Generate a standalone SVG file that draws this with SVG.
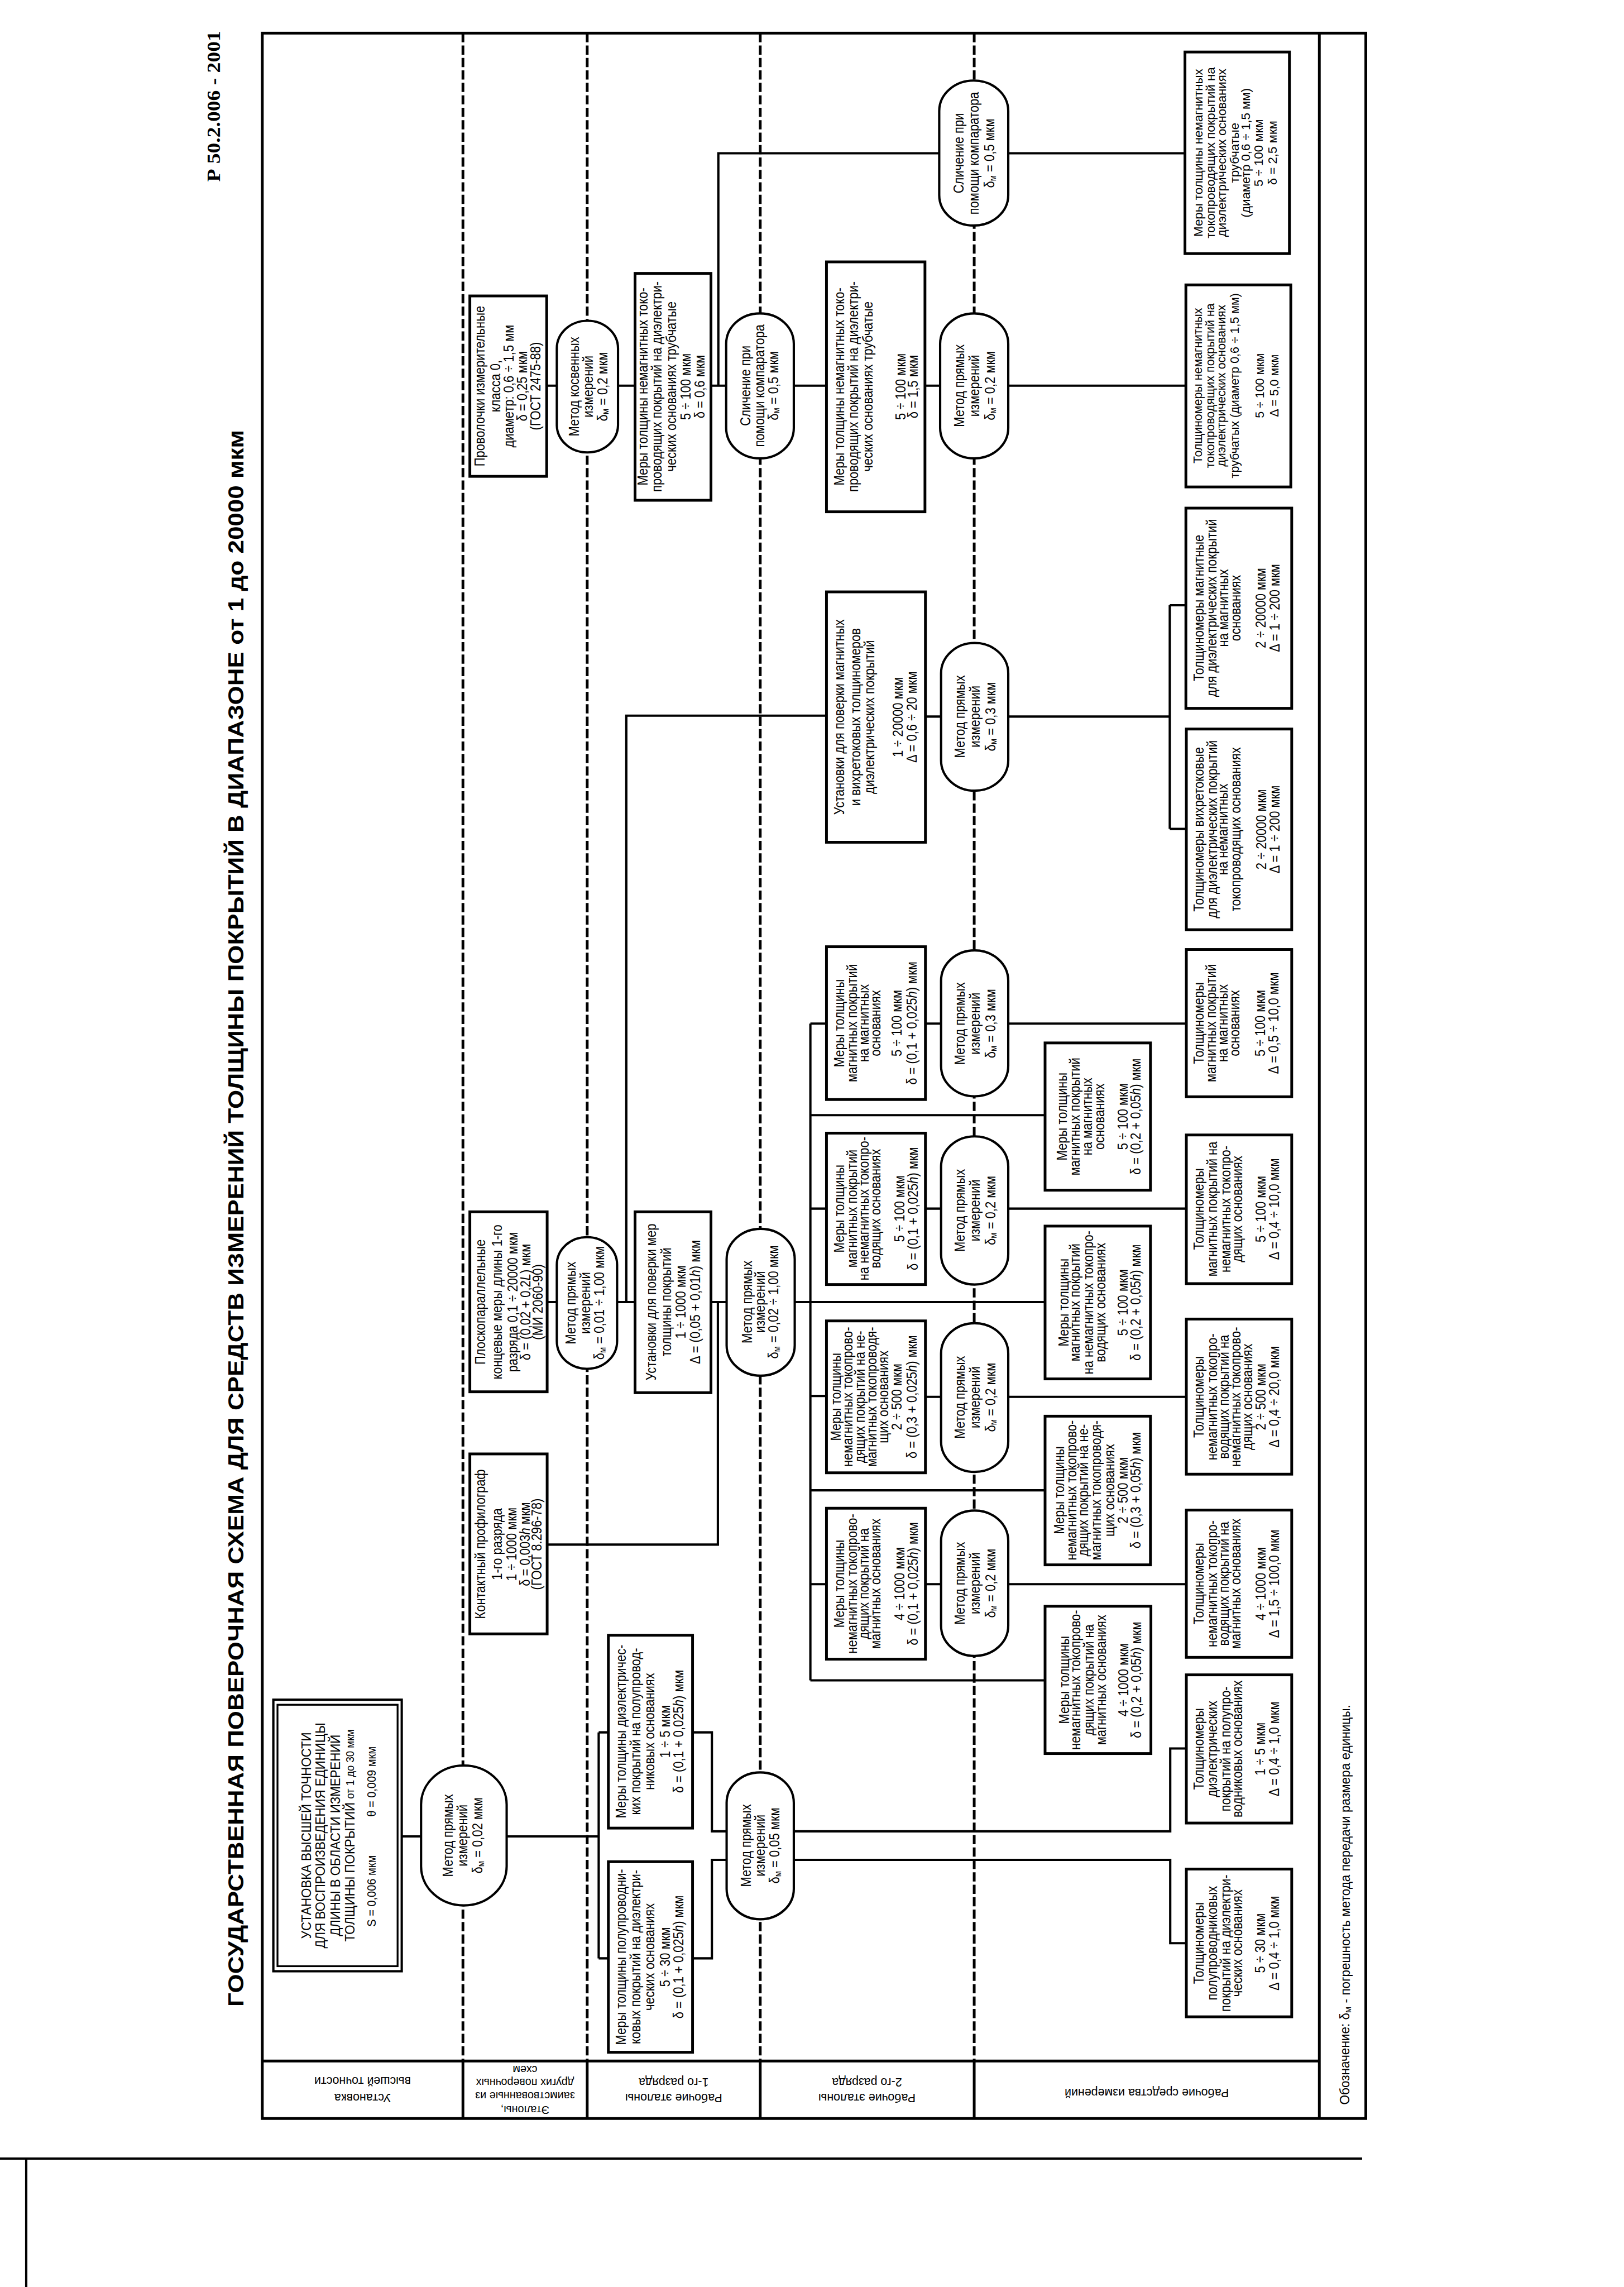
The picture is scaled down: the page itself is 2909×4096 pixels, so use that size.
<svg xmlns="http://www.w3.org/2000/svg" width="2909" height="4096" viewBox="0 0 2909 4096">
<style>
.f{fill:none;stroke:#000;stroke-width:6}
.bx{fill:#fff;stroke:#000;stroke-width:6}
.el{fill:#fff;stroke:#000;stroke-width:5}
.c{fill:none;stroke:#000;stroke-width:5}
.d{fill:none;stroke:#000;stroke-width:6;stroke-dasharray:20 7}
.t{font-family:"Liberation Sans",Arial,sans-serif;font-size:31px;text-anchor:middle;dominant-baseline:central;fill:#000}
.r{font-family:"Liberation Sans",Arial,sans-serif;font-size:27px;text-anchor:middle;dominant-baseline:central;fill:#000}
.lb{font-family:"Liberation Sans",Arial,sans-serif;font-size:26px;text-anchor:middle;dominant-baseline:central;fill:#000}
.ti{font-family:"Liberation Sans",Arial,sans-serif;font-size:46px;font-weight:bold;dominant-baseline:central;fill:#000}
.hd{font-family:"Liberation Serif","Times New Roman",serif;font-size:42px;font-weight:bold;dominant-baseline:central;fill:#000}
.s{font-size:21px}
.i{font-style:italic}
</style>
<rect x="0" y="0" width="2909" height="4096" fill="#fff"/>
<g transform="scale(0.8243)">
<!-- page artifacts -->
<path d="M0 4690 H2960 M57 4690 V4969" stroke="#000" stroke-width="5" fill="none"/>
<text class="hd" transform="translate(463 395) rotate(-90)" textLength="328" lengthAdjust="spacingAndGlyphs">Р 50.2.006 - 2001</text>
<text class="ti" transform="translate(513 4360) rotate(-90)" textLength="3426" lengthAdjust="spacingAndGlyphs">ГОСУДАРСТВЕННАЯ ПОВЕРОЧНАЯ СХЕМА ДЛЯ СРЕДСТВ ИЗМЕРЕНИЙ ТОЛЩИНЫ ПОКРЫТИЙ В ДИАПАЗОНЕ от 1 до 20000 мкм</text>

<!-- frame -->
<g id="frame">
<rect class="f" x="570" y="72" width="2398" height="4531"/>
<path class="f" d="M2867 72 V4603 M570 4478 H2867 M1006 4478 V4603 M1276 4478 V4603 M1652 4478 V4603 M2117 4478 V4603"/>
<path class="d" d="M1006 72 V4478 M1276 72 V4478 M1652 72 V4478 M2117 72 V4478"/>
<text class="lb" transform="translate(788 4540) rotate(180)"><tspan x="0" y="-18">Установка</tspan><tspan x="0" y="18">высшей точности</tspan></text>
<text class="lb" style="font-size:24px" transform="translate(1141 4540) rotate(180)"><tspan x="0" y="-44">Эталоны,</tspan><tspan x="0" y="-14">заимствованные из</tspan><tspan x="0" y="15">других поверочных</tspan><tspan x="0" y="43">схем</tspan></text>
<text class="lb" transform="translate(1464 4540) rotate(180)"><tspan x="0" y="-18">Рабочие эталоны</tspan><tspan x="0" y="16">1-го разряда</tspan></text>
<text class="lb" transform="translate(1884 4540) rotate(180)"><tspan x="0" y="-18">Рабочие эталоны</tspan><tspan x="0" y="16">2-го разряда</tspan></text>
<text class="lb" transform="translate(2492 4540) rotate(180)"><tspan x="0" y="-7">Рабочие средства измерений</tspan></text>
<text class="lb" style="font-size:29px;text-anchor:start" transform="translate(2922 4573) rotate(-90)" textLength="869" lengthAdjust="spacingAndGlyphs">Обозначение: δ<tspan class="s" dy="7">м</tspan><tspan dy="-7"> - погрешность метода передачи размера единицы.</tspan></text>
</g>

<!-- connectors -->
<g id="connectors" class="c">
<path d="M873 3990 H915 M1101 3990 H1301 M1301 3764 V4255 M1301 3764 H1322 M1301 4255 H1322
M1505 3764 H1547 V3979 H1579 M1505 4255 H1547 V4041 H1579
M1725 3979 H2543 V3799 H2578 M1725 4041 H2543 V4222 H2578
M1189 3356 H1560 V2829 M1189 2829 H1210 M1341 2829 H1380 M1361 2829 V1555 H1796 M1545 2829 H1579 M1727 2829 H2271
M1761 2224 V3651 M1761 2224 H1796 M1761 2626 H1796 M1761 3033 H1796 M1761 3442 H1796
M1761 2423 H2271 M1761 3238 H2271 M1761 3651 H2271
M2011 2224 H2045 M2011 2626 H2045 M2011 3035 H2045 M2011 3442 H2045 M2010 838 H2043 M2011 1557 H2045
M2191 2224 H2578 M2191 2626 H2578 M2191 3035 H2578 M2191 3442 H2578 M2191 838 H2577 M2191 333 H2575
M2191 1557 H2542 M2542 1315 V1801 M2542 1315 H2577 M2542 1801 H2578
M1188 838 H1210 M1343 838 H1380 M1545 838 H1578 M1561 838 V333 H2041 M1725 838 H1796"/>
</g>

<!-- nodes -->
<g id="n_top">
<rect class="bx" x="594" y="3693" width="279" height="590" style="stroke-width:5"/>
<rect class="bx" x="603" y="3704" width="261" height="568" style="stroke-width:4"/>
<text class="t" style="font-size:30px" transform="translate(733 3988) rotate(-90) scale(0.9 1)"><tspan x="0" y="-68">УСТАНОВКА ВЫСШЕЙ ТОЧНОСТИ</tspan><tspan x="0" y="-37">ДЛЯ ВОСПРОИЗВЕДЕНИЯ ЕДИНИЦЫ</tspan><tspan x="0" y="-5">ДЛИНЫ В ОБЛАСТИ ИЗМЕРЕНИЙ</tspan><tspan x="0" y="27">ТОЛЩИНЫ ПОКРЫТИЙ <tspan style="font-size:25px">от 1 до 30 мкм</tspan></tspan><tspan x="-134" y="73" style="font-size:27px">S = 0,006 мкм</tspan><tspan x="130" y="73" style="font-size:27px">θ = 0,009 мкм</tspan></text>
</g>
<g id="e1"><rect class="el" x="915" y="3836" width="186" height="304" rx="93" ry="85"/>
<text class="t" transform="translate(1008 3988) rotate(-90) scale(0.86 1)"><tspan x="0" y="-36">Метод прямых</tspan><tspan x="0" y="-4">измерений</tspan><tspan x="0" y="29">δ<tspan class="s" dy="7">м</tspan><tspan dy="-7"> = 0,02 мкм</tspan></tspan></text></g>

<g id="n_diel"><rect class="bx" x="1322" y="3553" width="183" height="419"/>
<text class="t" transform="translate(1413 3762) rotate(-90) scale(0.86 1)"><tspan x="0" y="-65">Меры толщины диэлектричес-</tspan><tspan x="0" y="-33">ких покрытий на полупровод-</tspan><tspan x="0" y="-3">никовых основаниях</tspan><tspan x="0" y="31">1 ÷ 5 мкм</tspan><tspan x="0" y="60">δ =  (0,1 + 0,025<tspan class="i">h</tspan>) мкм</tspan></text></g>
<g id="n_polupr"><rect class="bx" x="1322" y="4045" width="183" height="414"/>
<text class="t" transform="translate(1413 4252) rotate(-90) scale(0.86 1)"><tspan x="0" y="-65">Меры толщины полупроводни-</tspan><tspan x="0" y="-33">ковых покрытий на диэлектри-</tspan><tspan x="0" y="-3">ческих основаниях</tspan><tspan x="0" y="31">5 ÷ 30 мкм</tspan><tspan x="0" y="60">δ =  (0,1 + 0,025<tspan class="i">h</tspan>) мкм</tspan></text></g>
<g id="e2"><rect class="el" x="1579" y="3851" width="146" height="319" rx="73" ry="66"/>
<text class="t" transform="translate(1652 4010) rotate(-90) scale(0.86 1)"><tspan x="0" y="-32">Метод прямых</tspan><tspan x="0" y="-2">измерений</tspan><tspan x="0" y="30">δ<tspan class="s" dy="7">м</tspan><tspan dy="-7"> = 0,05 мкм</tspan></tspan></text></g>

<g id="n_kontakt"><rect class="bx" x="1021" y="3159" width="168" height="391"/>
<text class="t" transform="translate(1105 3355) rotate(-90) scale(0.86 1)"><tspan x="0" y="-63">Контактный профилограф</tspan><tspan x="0" y="-26">1-го разряда</tspan><tspan x="0" y="5">1 ÷ 1000 мкм</tspan><tspan x="0" y="34">δ = 0,003<tspan class="i">h</tspan> мкм</tspan><tspan x="0" y="60">(ГОСТ 8.296-78)</tspan></text></g>
<g id="n_plosk"><rect class="bx" x="1021" y="2633" width="168" height="391"/>
<text class="t" transform="translate(1105 2829) rotate(-90) scale(0.86 1)"><tspan x="0" y="-63">Плоскопараллельные</tspan><tspan x="0" y="-26">концевые меры длины 1-го</tspan><tspan x="0" y="8">разряда 0,1 ÷ 20000 мкм</tspan><tspan x="0" y="36">δ = (0,02 + 0,2<tspan class="i">L</tspan>) мкм</tspan><tspan x="0" y="63">(МИ 2060-90)</tspan></text></g>
<g id="e3"><rect class="el" x="1210" y="2688" width="131" height="286" rx="65" ry="60"/>
<text class="t" transform="translate(1275 2831) rotate(-90) scale(0.86 1)"><tspan x="0" y="-36">Метод прямых</tspan><tspan x="0" y="-5">измерений</tspan><tspan x="0" y="26">δ<tspan class="s" dy="7">м</tspan><tspan dy="-7"> = 0,01 ÷ 1,00 мкм</tspan></tspan></text></g>
<g id="n_ustmer"><rect class="bx" x="1380" y="2633" width="165" height="393"/>
<text class="t" transform="translate(1462 2829) rotate(-90) scale(0.86 1)"><tspan x="0" y="-48">Установки для поверки мер</tspan><tspan x="0" y="-16">толщины покрытий</tspan><tspan x="0" y="16">1 ÷ 1000 мкм</tspan><tspan x="0" y="48">Δ =  (0,05 + 0,01<tspan class="i">h</tspan>) мкм</tspan></text></g>
<g id="e4"><rect class="el" x="1579" y="2670" width="148" height="319" rx="74" ry="66"/>
<text class="t" transform="translate(1653 2829) rotate(-90) scale(0.86 1)"><tspan x="0" y="-31">Метод прямых</tspan><tspan x="0" y="-3">измерений</tspan><tspan x="0" y="27">δ<tspan class="s" dy="7">м</tspan><tspan dy="-7"> = 0,02 ÷ 1,00 мкм</tspan></tspan></text></g>

<g id="n_prov"><rect class="bx" x="1021" y="643" width="167" height="392"/>
<text class="t" transform="translate(1104 839) rotate(-90) scale(0.86 1)"><tspan x="0" y="-63">Проволочки измерительные</tspan><tspan x="0" y="-29">класса 0,</tspan><tspan x="0" y="0">диаметр: 0,6 ÷ 1,5 мм</tspan><tspan x="0" y="29">δ = 0,25 мкм</tspan><tspan x="0" y="59">(ГОСТ 2475-88)</tspan></text></g>
<g id="e5"><rect class="el" x="1210" y="697" width="133" height="286" rx="66" ry="60"/>
<text class="t" transform="translate(1276 840) rotate(-90) scale(0.86 1)"><tspan x="0" y="-30">Метод косвенных</tspan><tspan x="0" y="1">измерений</tspan><tspan x="0" y="32">δ<tspan class="s" dy="7">м</tspan><tspan dy="-7"> = 0,2 мкм</tspan></tspan></text></g>
<g id="n_mtr1"><rect class="bx" x="1380" y="594" width="165" height="493"/>
<text class="t" transform="translate(1462 840) rotate(-90) scale(0.86 1)"><tspan x="0" y="-67">Меры толщины немагнитных токо-</tspan><tspan x="0" y="-36">проводящих покрытий на диэлектри-</tspan><tspan x="0" y="-5">ческих основаниях трубчатые</tspan><tspan x="0" y="27">5 ÷ 100 мкм</tspan><tspan x="0" y="57">δ =  0,6 мкм</tspan></text></g>
<g id="e6"><rect class="el" x="1578" y="681" width="147" height="315" rx="73" ry="66"/>
<text class="t" transform="translate(1651 838) rotate(-90) scale(0.86 1)"><tspan x="0" y="-32">Сличение при</tspan><tspan x="0" y="-2">помощи компаратора</tspan><tspan x="0" y="28">δ<tspan class="s" dy="7">м</tspan><tspan dy="-7"> = 0,5 мкм</tspan></tspan></text></g>
<g id="n_mtr2"><rect class="bx" x="1796" y="569" width="214" height="543"/>
<text class="t" transform="translate(1903 840) rotate(-90) scale(0.86 1)"><tspan x="0" y="-80">Меры толщины немагнитных токо-</tspan><tspan x="0" y="-50">проводящих покрытий на диэлектри-</tspan><tspan x="0" y="-18">ческих основаниях трубчатые</tspan><tspan x="0" y="53">5 ÷ 100 мкм</tspan><tspan x="0" y="80">δ =  1,5 мкм</tspan></text></g>
<g id="e7"><rect class="el" x="2041" y="175" width="150" height="315" rx="75" ry="66"/>
<text class="t" transform="translate(2116 333) rotate(-90) scale(0.86 1)"><tspan x="0" y="-34">Сличение при</tspan><tspan x="0" y="-1">помощи компаратора</tspan><tspan x="0" y="33">δ<tspan class="s" dy="7">м</tspan><tspan dy="-7"> = 0,5 мкм</tspan></tspan></text></g>
<g id="e8"><rect class="el" x="2043" y="681" width="148" height="315" rx="74" ry="66"/>
<text class="t" transform="translate(2117 838) rotate(-90) scale(0.86 1)"><tspan x="0" y="-34">Метод прямых</tspan><tspan x="0" y="-1">измерений</tspan><tspan x="0" y="33">δ<tspan class="s" dy="7">м</tspan><tspan dy="-7"> = 0,2  мкм</tspan></tspan></text></g>
<g id="n_mtr3"><rect class="bx" x="2575" y="113" width="227" height="438"/>
<text class="r" transform="translate(2688 332) rotate(-90)"><tspan x="0" y="-85">Меры толщины немагнитных</tspan><tspan x="0" y="-58">токопроводящих покрытий на</tspan><tspan x="0" y="-34">диэлектрических основаниях</tspan><tspan x="0" y="-6">трубчатые</tspan><tspan x="0" y="19">(диаметр 0,6 ÷ 1,5 мм)</tspan><tspan x="0" y="46">5 ÷ 100 мкм</tspan><tspan x="0" y="77">δ = 2,5 мкм</tspan></text></g>
<g id="n_toltr"><rect class="bx" x="2577" y="619" width="228" height="439"/>
<text class="r" style="font-size:26px" transform="translate(2691 838) rotate(-90)"><tspan x="0" y="-88">Толщиномеры немагнитных</tspan><tspan x="0" y="-61">токопроводящих покрытий на</tspan><tspan x="0" y="-37">диэлектрических основаниях</tspan><tspan x="0" y="-8">трубчатых (диаметр 0,6 ÷ 1,5 мм)</tspan><tspan x="0" y="47">5 ÷ 100 мкм</tspan><tspan x="0" y="79">Δ = 5,0 мкм</tspan></text></g>

<g id="n_ustmag"><rect class="bx" x="1796" y="1286" width="215" height="544"/>
<text class="t" transform="translate(1903 1558) rotate(-90) scale(0.86 1)"><tspan x="0" y="-80">Установки для поверки магнитных</tspan><tspan x="0" y="-45">и вихретоковых толщиномеров</tspan><tspan x="0" y="-15">диэлектрических покрытий</tspan><tspan x="0" y="47">1 ÷ 20000 мкм</tspan><tspan x="0" y="77">Δ =  0,6 ÷ 20 мкм</tspan></text></g>
<g id="e9"><rect class="el" x="2045" y="1397" width="146" height="321" rx="73" ry="66"/>
<text class="t" transform="translate(2118 1557) rotate(-90) scale(0.86 1)"><tspan x="0" y="-34">Метод прямых</tspan><tspan x="0" y="-1">измерений</tspan><tspan x="0" y="33">δ<tspan class="s" dy="7">м</tspan><tspan dy="-7"> = 0,3  мкм</tspan></tspan></text></g>
<g id="n_tmag1"><rect class="bx" x="2577" y="1104" width="230" height="435"/>
<text class="t" transform="translate(2692 1321) rotate(-90) scale(0.86 1)"><tspan x="0" y="-88">Толщиномеры магнитные</tspan><tspan x="0" y="-60">для диэлектрических покрытий</tspan><tspan x="0" y="-35">на магнитных</tspan><tspan x="0" y="-8">основаниях</tspan><tspan x="0" y="47">2 ÷ 20000 мкм</tspan><tspan x="0" y="77">Δ = 1 ÷ 200 мкм</tspan></text></g>
<g id="n_tvihr"><rect class="bx" x="2578" y="1584" width="229" height="436"/>
<text class="t" transform="translate(2692 1802) rotate(-90) scale(0.86 1)"><tspan x="0" y="-88">Толщиномеры вихретоковые</tspan><tspan x="0" y="-59">для диэлектрических покрытий</tspan><tspan x="0" y="-36">на немагнитных</tspan><tspan x="0" y="-8">токопроводящих основаниях</tspan><tspan x="0" y="48">2 ÷ 20000 мкм</tspan><tspan x="0" y="77">Δ = 1 ÷ 200 мкм</tspan></text></g>

<g id="n_mmag"><rect class="bx" x="1796" y="2057" width="215" height="332"/>
<text class="t" transform="translate(1903 2223) rotate(-90) scale(0.86 1)"><tspan x="0" y="-80">Меры толщины</tspan><tspan x="0" y="-53">магнитных покрытий</tspan><tspan x="0" y="-27">на магнитных</tspan><tspan x="0" y="-2">основаниях</tspan><tspan x="0" y="45">5 ÷ 100 мкм</tspan><tspan x="0" y="77">δ =  (0,1 + 0,025<tspan class="i">h</tspan>) мкм</tspan></text></g>
<g id="e10"><rect class="el" x="2045" y="2065" width="146" height="317" rx="73" ry="66"/>
<text class="t" transform="translate(2118 2224) rotate(-90) scale(0.86 1)"><tspan x="0" y="-34">Метод прямых</tspan><tspan x="0" y="-1">измерений</tspan><tspan x="0" y="33">δ<tspan class="s" dy="7">м</tspan><tspan dy="-7"> = 0,3  мкм</tspan></tspan></text></g>
<g id="n_tmag2"><rect class="bx" x="2578" y="2063" width="229" height="320"/>
<text class="t" transform="translate(2692 2223) rotate(-90) scale(0.86 1)"><tspan x="0" y="-88">Толщиномеры</tspan><tspan x="0" y="-62">магнитных  покрытий</tspan><tspan x="0" y="-36">на магнитных</tspan><tspan x="0" y="-10">основаниях</tspan><tspan x="0" y="45">5 ÷ 100 мкм</tspan><tspan x="0" y="74">Δ =  0,5 ÷ 10,0 мкм</tspan></text></g>
<g id="n_m0"><rect class="bx" x="2271" y="2266" width="229" height="320"/>
<text class="t" transform="translate(2385 2426) rotate(-90) scale(0.86 1)"><tspan x="0" y="-78">Меры толщины</tspan><tspan x="0" y="-50">магнитных покрытий</tspan><tspan x="0" y="-24">на магнитных</tspan><tspan x="0" y="3">основаниях</tspan><tspan x="0" y="54">5 ÷ 100 мкм</tspan><tspan x="0" y="82">δ =  (0,2 + 0,05<tspan class="i">h</tspan>) мкм</tspan></text></g>

<g id="n_a"><rect class="bx" x="1796" y="2462" width="215" height="329"/>
<text class="t" transform="translate(1903 2626) rotate(-90) scale(0.86 1)"><tspan x="0" y="-80">Меры толщины</tspan><tspan x="0" y="-52">магнитных покрытий</tspan><tspan x="0" y="-27">на немагнитных токопро-</tspan><tspan x="0" y="-2">водящих основаниях</tspan><tspan x="0" y="50">5 ÷ 100 мкм</tspan><tspan x="0" y="80">δ =  (0,1 + 0,025<tspan class="i">h</tspan>) мкм</tspan></text></g>
<g id="n_b"><rect class="bx" x="1796" y="2870" width="215" height="330"/>
<text class="t" transform="translate(1903 3035) rotate(-90) scale(0.86 1)"><tspan x="0" y="-88">Меры толщины</tspan><tspan x="0" y="-62">немагнитных токопрово-</tspan><tspan x="0" y="-35">дящих покрытий на не-</tspan><tspan x="0" y="-10">магнитных токопроводя-</tspan><tspan x="0" y="15">щих основаниях</tspan><tspan x="0" y="45">2 ÷ 500 мкм</tspan><tspan x="0" y="77">δ =  (0,3 + 0,025<tspan class="i">h</tspan>) мкм</tspan></text></g>
<g id="n_c"><rect class="bx" x="1796" y="3277" width="215" height="328"/>
<text class="t" transform="translate(1903 3441) rotate(-90) scale(0.86 1)"><tspan x="0" y="-80">Меры толщины</tspan><tspan x="0" y="-52">немагнитных токопрово-</tspan><tspan x="0" y="-27">дящих покрытий на</tspan><tspan x="0" y="-2">магнитных основаниях</tspan><tspan x="0" y="50">4 ÷ 1000 мкм</tspan><tspan x="0" y="80">δ =  (0,1 + 0,025<tspan class="i">h</tspan>) мкм</tspan></text></g>
<g id="e11"><rect class="el" x="2045" y="2469" width="146" height="322" rx="73" ry="66"/>
<text class="t" transform="translate(2118 2630) rotate(-90) scale(0.86 1)"><tspan x="0" y="-34">Метод прямых</tspan><tspan x="0" y="-1">измерений</tspan><tspan x="0" y="33">δ<tspan class="s" dy="7">м</tspan><tspan dy="-7"> = 0,2 мкм</tspan></tspan></text></g>
<g id="e12"><rect class="el" x="2045" y="2875" width="146" height="323" rx="73" ry="66"/>
<text class="t" transform="translate(2118 3036) rotate(-90) scale(0.86 1)"><tspan x="0" y="-34">Метод прямых</tspan><tspan x="0" y="-1">измерений</tspan><tspan x="0" y="33">δ<tspan class="s" dy="7">м</tspan><tspan dy="-7"> = 0,2 мкм</tspan></tspan></text></g>
<g id="e13"><rect class="el" x="2045" y="3282" width="146" height="316" rx="73" ry="66"/>
<text class="t" transform="translate(2118 3440) rotate(-90) scale(0.86 1)"><tspan x="0" y="-34">Метод прямых</tspan><tspan x="0" y="-1">измерений</tspan><tspan x="0" y="33">δ<tspan class="s" dy="7">м</tspan><tspan dy="-7"> = 0,2 мкм</tspan></tspan></text></g>

<g id="n_m1"><rect class="bx" x="2271" y="2664" width="229" height="332"/>
<text class="t" transform="translate(2385 2830) rotate(-90) scale(0.86 1)"><tspan x="0" y="-75">Меры толщины</tspan><tspan x="0" y="-50">магнитных покрытий</tspan><tspan x="0" y="-21">на немагнитных токопро-</tspan><tspan x="0" y="5">водящих основаниях</tspan><tspan x="0" y="54">5 ÷ 100 мкм</tspan><tspan x="0" y="82">δ =  (0,2 + 0,05<tspan class="i">h</tspan>) мкм</tspan></text></g>
<g id="n_m2"><rect class="bx" x="2271" y="3077" width="229" height="323"/>
<text class="t" transform="translate(2385 3238) rotate(-90) scale(0.86 1)"><tspan x="0" y="-84">Меры толщины</tspan><tspan x="0" y="-58">немагнитных токопрово-</tspan><tspan x="0" y="-32">дящих покрытий на не-</tspan><tspan x="0" y="-4">магнитных токопроводя-</tspan><tspan x="0" y="25">щих основаниях</tspan><tspan x="0" y="54">2 ÷ 500 мкм</tspan><tspan x="0" y="82">δ =  (0,3 + 0,05<tspan class="i">h</tspan>) мкм</tspan></text></g>
<g id="n_m3"><rect class="bx" x="2271" y="3490" width="230" height="320"/>
<text class="t" transform="translate(2386 3650) rotate(-90) scale(0.86 1)"><tspan x="0" y="-75">Меры толщины</tspan><tspan x="0" y="-50">немагнитных токопрово-</tspan><tspan x="0" y="-21">дящих покрытий на</tspan><tspan x="0" y="5">магнитных основаниях</tspan><tspan x="0" y="54">4 ÷ 1000 мкм</tspan><tspan x="0" y="82">δ =  (0,2 + 0,05<tspan class="i">h</tspan>) мкм</tspan></text></g>

<g id="n_ta"><rect class="bx" x="2578" y="2466" width="229" height="323"/>
<text class="t" transform="translate(2692 2627) rotate(-90) scale(0.86 1)"><tspan x="0" y="-88">Толщиномеры</tspan><tspan x="0" y="-59">магнитных  покрытий на</tspan><tspan x="0" y="-30">немагнитных токопро-</tspan><tspan x="0" y="-5">дящих основаниях</tspan><tspan x="0" y="47">5 ÷ 100 мкм</tspan><tspan x="0" y="76">Δ =  0,4 ÷ 10,0 мкм</tspan></text></g>
<g id="n_tb"><rect class="bx" x="2578" y="2866" width="229" height="337"/>
<text class="t" transform="translate(2692 3035) rotate(-90) scale(0.86 1)"><tspan x="0" y="-88">Толщиномеры</tspan><tspan x="0" y="-59">немагнитных токопро-</tspan><tspan x="0" y="-33">водящих покрытий на</tspan><tspan x="0" y="-8">немагнитных токопрово-</tspan><tspan x="0" y="18">дящих основаниях</tspan><tspan x="0" y="47">2 ÷ 500 мкм</tspan><tspan x="0" y="76">Δ =  0,4 ÷ 20,0 мкм</tspan></text></g>
<g id="n_tc"><rect class="bx" x="2578" y="3281" width="229" height="320"/>
<text class="t" transform="translate(2692 3441) rotate(-90) scale(0.86 1)"><tspan x="0" y="-88">Толщиномеры</tspan><tspan x="0" y="-59">немагнитных токопро-</tspan><tspan x="0" y="-33">водящих покрытий на</tspan><tspan x="0" y="-8">магнитных основаниях</tspan><tspan x="0" y="47">4 ÷ 1000 мкм</tspan><tspan x="0" y="76">Δ = 1,5 ÷ 100,0 мкм</tspan></text></g>
<g id="n_td"><rect class="bx" x="2578" y="3639" width="229" height="322"/>
<text class="t" transform="translate(2692 3800) rotate(-90) scale(0.86 1)"><tspan x="0" y="-88">Толщиномеры</tspan><tspan x="0" y="-59">диэлектрических</tspan><tspan x="0" y="-30">покрытий на полупро-</tspan><tspan x="0" y="-5">водниковых основаниях</tspan><tspan x="0" y="45">1 ÷ 5 мкм</tspan><tspan x="0" y="76">Δ =  0,4 ÷ 1,0 мкм</tspan></text></g>
<g id="n_te"><rect class="bx" x="2578" y="4061" width="229" height="321"/>
<text class="t" transform="translate(2692 4222) rotate(-90) scale(0.86 1)"><tspan x="0" y="-88">Толщиномеры</tspan><tspan x="0" y="-59">полупроводниковых</tspan><tspan x="0" y="-30">покрытий на диэлектри-</tspan><tspan x="0" y="-5">ческих основаниях</tspan><tspan x="0" y="45">5 ÷ 30 мкм</tspan><tspan x="0" y="76">Δ =  0,4 ÷ 1,0 мкм</tspan></text></g>
</g>
</svg>
